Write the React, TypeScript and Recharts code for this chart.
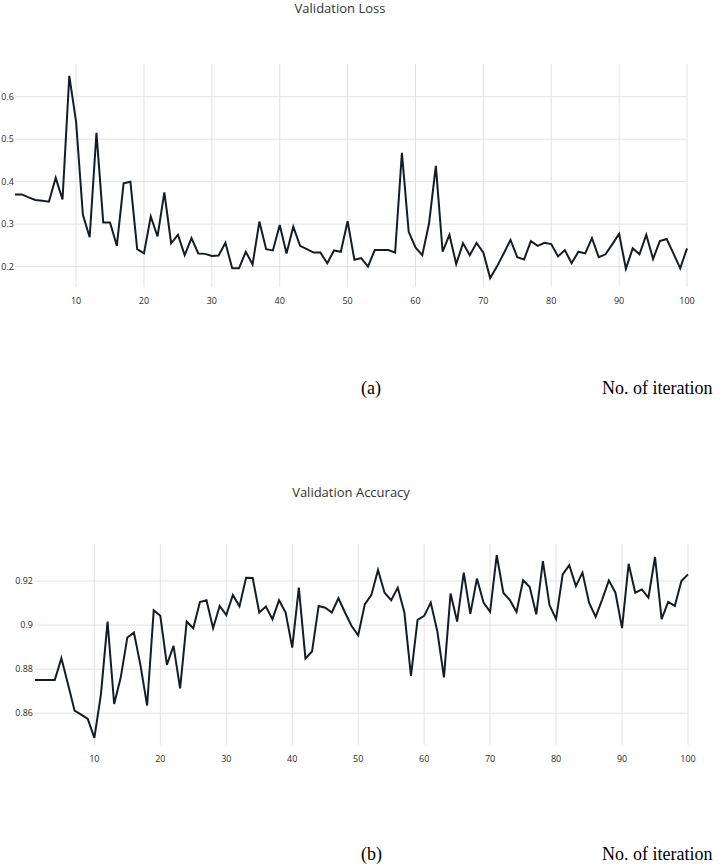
import React from 'react';
import { LineChart, Line, XAxis, YAxis, CartesianGrid } from 'recharts';

const iterations = Array.from({ length: 100 }, (_, i) => i + 1);

const lossValues = [
  0.370, 0.370, 0.363, 0.357, 0.355, 0.353, 0.409, 0.358, 0.649, 0.541,
  0.322, 0.269, 0.515, 0.304, 0.304, 0.249, 0.396, 0.400, 0.241, 0.231,
  0.318, 0.271, 0.375, 0.255, 0.275, 0.227, 0.267, 0.231, 0.230, 0.225,
  0.226, 0.256, 0.196, 0.196, 0.235, 0.205, 0.306, 0.241, 0.238, 0.298,
  0.231, 0.294, 0.249, 0.241, 0.233, 0.233, 0.208, 0.238, 0.235, 0.307,
  0.216, 0.220, 0.200, 0.239, 0.239, 0.239, 0.233, 0.468, 0.282, 0.245,
  0.227, 0.302, 0.437, 0.235, 0.275, 0.206, 0.255, 0.227, 0.256, 0.233,
  0.173, 0.200, 0.231, 0.263, 0.222, 0.217, 0.260, 0.249, 0.256, 0.253,
  0.224, 0.239, 0.208, 0.235, 0.231, 0.267, 0.222, 0.229, 0.253, 0.277,
  0.195, 0.243, 0.229, 0.275, 0.218, 0.260, 0.265, 0.231, 0.196, 0.243,
];

const accuracyValues = [
  0.8751, 0.8751, 0.8751, 0.8751, 0.885, 0.8733, 0.8612, 0.8594, 0.8574, 0.8488,
  0.8687, 0.9016, 0.8642, 0.8763, 0.8944, 0.8966, 0.8816, 0.8635, 0.9067, 0.9042,
  0.882, 0.8906, 0.8713, 0.9016, 0.8986, 0.9105, 0.9113, 0.8986, 0.9087, 0.9046,
  0.9137, 0.9085, 0.9215, 0.9214, 0.9057, 0.9084, 0.9027, 0.9113, 0.9057, 0.8898,
  0.917, 0.8849, 0.888, 0.9087, 0.9079, 0.9057, 0.9122, 0.9057, 0.8996, 0.8954,
  0.9094, 0.9137, 0.925, 0.9147, 0.9113, 0.917, 0.9057, 0.877, 0.9024, 0.9042,
  0.9102, 0.8971, 0.8763, 0.9143, 0.9016, 0.9238, 0.9051, 0.9211, 0.9102, 0.906,
  0.9318, 0.9147, 0.9113, 0.906, 0.9203, 0.9173, 0.9049, 0.929, 0.9091, 0.9027,
  0.923, 0.9272, 0.9177, 0.9238, 0.9102, 0.9037, 0.9117, 0.9203, 0.9147, 0.8986,
  0.9278, 0.9147, 0.9162, 0.9125, 0.9309, 0.9027, 0.9105, 0.9087, 0.92, 0.923,
];

const xTicks = [10, 20, 30, 40, 50, 60, 70, 80, 90, 100];
const lossTicks = [0.2, 0.3, 0.4, 0.5, 0.6];
const accuracyTicks = [0.86, 0.88, 0.9, 0.92];

const lossData = iterations.map((it, i) => ({ iteration: it, loss: lossValues[i] }));
const accuracyData = iterations.map((it, i) => ({ iteration: it, accuracy: accuracyValues[i] }));

const tickStyle = { fontSize: 9, fill: '#2a2a2a', fontFamily: '"Open Sans", sans-serif' };
const lineColor = '#141c28';
const gridColor = '#e2e2e2';

const App: React.FC = () => {
  return (
    <div style={{ position: 'absolute', left: 0, top: 0, width: 721, height: 868, background: '#fff' }}>
      {/* (a) validation loss */}
      <div style={{ position: 'absolute', left: 0, top: 0 }}>
        <LineChart width={721} height={320} data={lossData} margin={{ top: 64, right: 34, left: 0, bottom: 0 }}>
          <CartesianGrid stroke={gridColor} strokeWidth={1} verticalValues={xTicks} horizontalValues={lossTicks} />
          <XAxis
            dataKey="iteration"
            type="number"
            domain={[1, 100]}
            ticks={xTicks}
            axisLine={false}
            tickLine={false}
            tickSize={0}
            tickMargin={11}
            height={33}
            tick={tickStyle}
            interval={0}
          />
          <YAxis
            type="number"
            domain={[0.152, 0.677]}
            ticks={lossTicks}
            axisLine={false}
            tickLine={false}
            tickSize={0}
            tickMargin={1}
            width={15}
            tick={tickStyle}
            interval={0}
          />
          <Line
            type="linear"
            dataKey="loss"
            stroke={lineColor}
            strokeWidth={2}
            dot={false}
            isAnimationActive={false}
          />
        </LineChart>
      </div>

      {/* (b) validation accuracy */}
      <div style={{ position: 'absolute', left: 0, top: 480 }}>
        <LineChart width={721} height={298} data={accuracyData} margin={{ top: 64, right: 33, left: 0, bottom: 0 }}>
          <CartesianGrid stroke={gridColor} strokeWidth={1} verticalValues={xTicks} horizontalValues={accuracyTicks} />
          <XAxis
            dataKey="iteration"
            type="number"
            domain={[1, 100]}
            ticks={xTicks}
            axisLine={false}
            tickLine={false}
            tickSize={0}
            tickMargin={11}
            height={33}
            tick={tickStyle}
            interval={0}
          />
          <YAxis
            type="number"
            domain={[0.8456, 0.9368]}
            ticks={accuracyTicks}
            axisLine={false}
            tickLine={false}
            tickSize={0}
            tickMargin={2}
            width={35}
            tick={tickStyle}
            interval={0}
          />
          <Line
            type="linear"
            dataKey="accuracy"
            stroke={lineColor}
            strokeWidth={2}
            dot={false}
            isAnimationActive={false}
          />
        </LineChart>
      </div>

      {/* titles and captions */}
      <svg width={721} height={868} style={{ position: 'absolute', left: 0, top: 0, pointerEvents: 'none' }}>
        <g fontFamily='"Open Sans", sans-serif' fontSize={13} fill="#333" textAnchor="middle">
          <text x={340} y={13}>Validation Loss</text>
          <text x={351} y={497}>Validation Accuracy</text>
        </g>
        <g fontFamily='"Liberation Serif", "Times New Roman", serif' fontSize={18} fill="#000">
          <text x={361} y={394}>(a)</text>
          <text x={602} y={394}>No. of iteration</text>
          <text x={361} y={860}>(b)</text>
          <text x={602} y={860}>No. of iteration</text>
        </g>
      </svg>
    </div>
  );
};

export default App;
